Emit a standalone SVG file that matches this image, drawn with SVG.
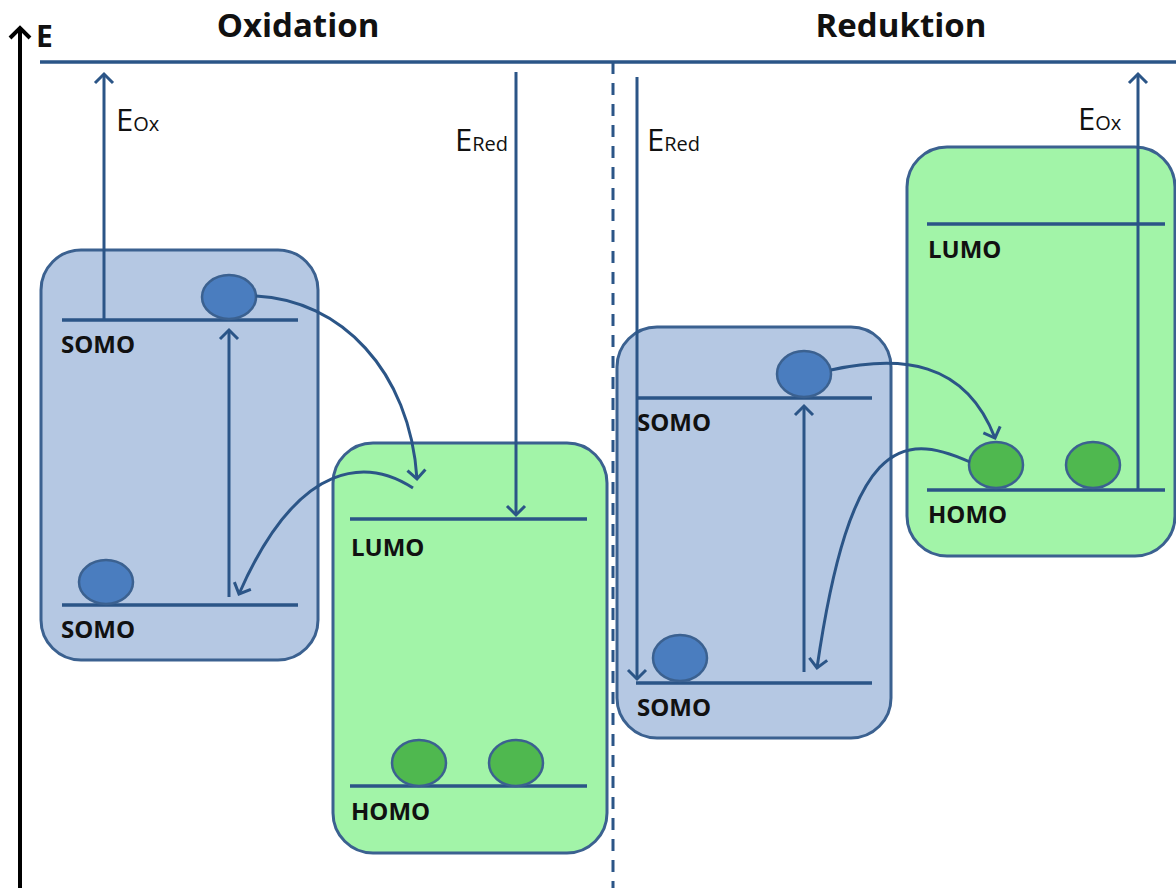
<svg xmlns="http://www.w3.org/2000/svg" width="1176" height="888" viewBox="0 0 1176 888">
<style>
.lvl{stroke:#2b5587;stroke-width:3.5;fill:none}
.ln{stroke:#2b5587;stroke-width:3;fill:none}
.boxb{fill:#b5c8e3;stroke:#3b6190;stroke-width:3}
.boxg{fill:#a2f4a8;stroke:#3b6190;stroke-width:3}
.eb{fill:#4a7dbf;stroke:#3b6190;stroke-width:2.5}
.eg{fill:#4fb84f;stroke:#3b6190;stroke-width:2.5}
.lab{font-family:"Open Sans","Liberation Sans",sans-serif;font-weight:bold;font-size:24px;fill:#111}
.ttl{font-family:"Open Sans","Liberation Sans",sans-serif;font-weight:bold;font-size:33px;fill:#111}
.en{font-family:"Open Sans","Liberation Sans",sans-serif;font-size:31px;fill:#111}
.sub{font-size:20px}
</style>
<defs>
<marker id="ah" viewBox="0 0 24 24" refX="12" refY="12" markerWidth="24" markerHeight="24" markerUnits="userSpaceOnUse" orient="auto">
<path d="M3 3 L12 12 L3 21" fill="none" stroke="#2b5587" stroke-width="3"/>
</marker>
<marker id="ahk" viewBox="0 0 28 28" refX="14" refY="14" markerWidth="28" markerHeight="28" markerUnits="userSpaceOnUse" orient="auto">
<path d="M4 4 L14 14 L4 24" fill="none" stroke="#000" stroke-width="4"/>
</marker>
</defs>

<g id="axis">
<line x1="20" y1="888" x2="20" y2="28" stroke="#000" stroke-width="4" marker-end="url(#ahk)"/>
<text x="36" y="47" font-family="Open Sans, Liberation Sans, sans-serif" font-weight="bold" font-size="30" fill="#111">E</text>
</g>
<g id="titles">
<text x="298" y="37" class="ttl" text-anchor="middle">Oxidation</text>
<text x="901" y="37" class="ttl" text-anchor="middle">Reduktion</text>
</g>
<g id="reference-line">
<line x1="40" y1="62" x2="1176" y2="62" class="lvl"/>
<line x1="613" y1="62" x2="613" y2="888" stroke="#2b5587" stroke-width="3" stroke-dasharray="12,9"/>
</g>

<g id="ox-donor">
<rect x="41" y="250" width="277" height="410" rx="40" class="boxb"/>
<line x1="62" y1="320" x2="298" y2="320" class="lvl"/>
<line x1="62" y1="605" x2="298" y2="605" class="lvl"/>
<ellipse cx="229" cy="297" rx="27" ry="22" class="eb"/>
<ellipse cx="106" cy="582" rx="27" ry="22" class="eb"/>
<text x="61" y="353" class="lab">SOMO</text>
<text x="61" y="638" class="lab">SOMO</text>
</g>
<g id="ox-acceptor">
<rect x="333" y="443" width="274" height="410" rx="40" class="boxg"/>
<line x1="350" y1="519" x2="587" y2="519" class="lvl"/>
<line x1="350" y1="786" x2="587" y2="786" class="lvl"/>
<ellipse cx="419" cy="763" rx="27" ry="23" class="eg"/>
<ellipse cx="516" cy="763" rx="27" ry="23" class="eg"/>
<text x="351" y="556" class="lab">LUMO</text>
<text x="351" y="820" class="lab">HOMO</text>
</g>
<g id="red-donor">
<rect x="617" y="327" width="274" height="411" rx="40" class="boxb"/>
<line x1="636" y1="398" x2="872" y2="398" class="lvl"/>
<line x1="636" y1="683" x2="872" y2="683" class="lvl"/>
<ellipse cx="804" cy="374" rx="27" ry="23" class="eb"/>
<ellipse cx="680" cy="658" rx="27" ry="23" class="eb"/>
<text x="637" y="431" class="lab">SOMO</text>
<text x="637" y="716" class="lab">SOMO</text>
</g>
<g id="red-acceptor">
<rect x="907" y="147" width="268" height="409" rx="40" class="boxg"/>
<line x1="927" y1="224" x2="1165" y2="224" class="lvl"/>
<line x1="927" y1="490" x2="1165" y2="490" class="lvl"/>
<ellipse cx="996" cy="465" rx="27" ry="23" class="eg"/>
<ellipse cx="1093" cy="465" rx="27" ry="23" class="eg"/>
<text x="928" y="258" class="lab">LUMO</text>
<text x="928" y="523" class="lab">HOMO</text>
</g>

<g id="connectors">
<line x1="104" y1="320" x2="104" y2="74" class="ln" marker-end="url(#ah)"/>
<line x1="229" y1="597" x2="229" y2="330" class="ln" marker-end="url(#ah)"/>
<path d="M256 296 C340 300 410 370 417 479" class="ln" marker-end="url(#ah)"/>
<path d="M413 488 C370 460 300 455 239 594" class="ln" marker-end="url(#ah)"/>
<line x1="516" y1="72" x2="516" y2="515" class="ln" marker-end="url(#ah)"/>
<line x1="637" y1="77" x2="637" y2="679" class="ln" marker-end="url(#ah)"/>
<line x1="804" y1="672" x2="804" y2="406" class="ln" marker-end="url(#ah)"/>
<path d="M831 370 C900 355 965 360 995 438" class="ln" marker-end="url(#ah)"/>
<path d="M970 462 C900 430 850 440 817 668" class="ln" marker-end="url(#ah)"/>
<line x1="1138" y1="490" x2="1138" y2="74" class="ln" marker-end="url(#ah)"/>
</g>
<g id="labels">
<text x="116" y="131" class="en">E<tspan class="sub">Ox</tspan></text>
<text x="455" y="151" class="en">E<tspan class="sub">Red</tspan></text>
<text x="647" y="151" class="en">E<tspan class="sub">Red</tspan></text>
<text x="1078" y="130" class="en">E<tspan class="sub">Ox</tspan></text>
</g>
</svg>
